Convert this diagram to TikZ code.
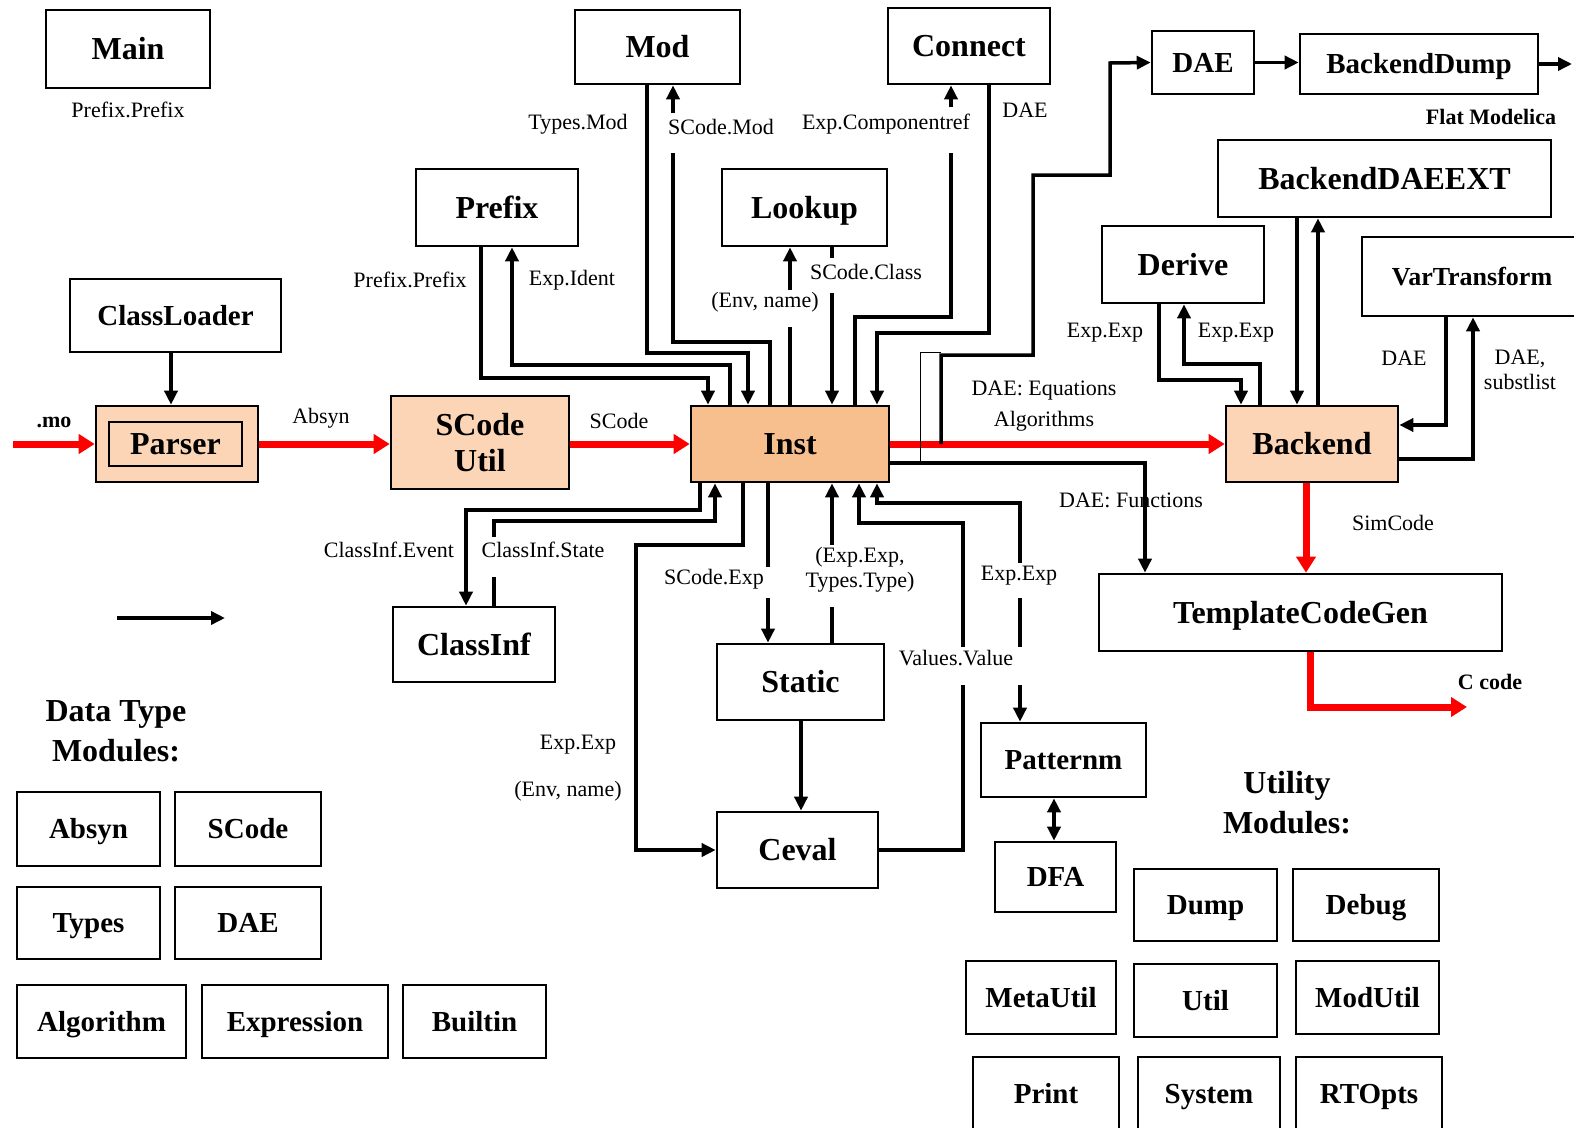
\documentclass[tikz,border=0pt]{standalone}
\usepackage{fontspec}
\setmainfont{Liberation Serif}
\usetikzlibrary{arrows.meta}
\definecolor{peach}{RGB}{251,213,181}
\definecolor{instc}{RGB}{247,191,142}
\tikzset{
  box/.style={draw, line width=2.6pt, fill=white, inner sep=0pt, text height=27pt, text depth=6pt, font=\bfseries\fontsize{32}{36}\selectfont},
  sbox/.style={box, text height=25pt, text depth=6pt, font=\bfseries\fontsize{29}{32}\selectfont},
  lab/.style={inner sep=0pt, font=\fontsize{22}{25}\selectfont},
  blab/.style={inner sep=0pt, font=\bfseries\fontsize{22}{25}\selectfont},
  head/.style={inner sep=0pt, align=center, font=\bfseries\fontsize{32}{40}\selectfont},
  conn/.style={line width=3.5pt},
  arr/.style={conn, -{Triangle[length=14pt,width=13pt]}},
  darr/.style={conn, {Triangle[length=14pt,width=13pt]}-{Triangle[length=14pt,width=13pt]}},
  redarrow/.style={line width=7pt, draw=red, -{Triangle[length=16pt,width=19pt]}},
  thinline/.style={line width=1pt},
}
\begin{document}
\begin{tikzpicture}[x=1pt,y=-1pt]
\useasboundingbox (0,0) rectangle (1574,1127);
\fill[white] (0,0) rectangle (1574,1127);
\clip (0,0) rectangle (1574,1127);

% ---------- boxes ----------
\node[box, minimum width=164, minimum height=78] (main) at (128,49) {Main};
\node[box, minimum width=165, minimum height=74] (mod) at (657.5,47) {Mod};
\node[box, minimum width=162, minimum height=76] (connect) at (969,46) {Connect};
\node[sbox, minimum width=102, minimum height=63] (daetop) at (1203,62.5) {DAE};
\node[sbox, minimum width=238, minimum height=60] (bdump) at (1419,64) {BackendDump};
\node[box, minimum width=333, minimum height=77] (bdaeext) at (1384.5,178.5) {BackendDAEEXT};
\node[box, minimum width=162, minimum height=77] (prefix) at (497,207.5) {Prefix};
\node[box, minimum width=165, minimum height=77] (lookup) at (804.5,207.5) {Lookup};
\node[box, minimum width=162, minimum height=77] (derive) at (1183,264.5) {Derive};
\node[box, minimum width=220, minimum height=79, text height=22pt, text depth=5pt, font=\bfseries\fontsize{26}{30}\selectfont] (vartrans) at (1472,276.5) {VarTransform};
\node[sbox, minimum width=211, minimum height=73] (classloader) at (175.5,315.5) {ClassLoader};
\node[box, fill=peach, minimum width=162, minimum height=76] (parserouter) at (177,444) {};
\node[box, fill=peach, minimum width=133, minimum height=44] (parser) at (175.5,444) {Parser};
\node[draw, line width=2.6pt, fill=peach, inner sep=0pt, minimum width=178, minimum height=93, align=center, font=\bfseries\fontsize{32}{36}\selectfont] (scodeutil) at (480,442.5) {SCode\\Util};
\node[box, fill=instc, minimum width=198, minimum height=76] (inst) at (790,444) {Inst};
\node[box, fill=peach, minimum width=172, minimum height=76] (backend) at (1312,444) {Backend};
\node[box, minimum width=162, minimum height=75] (classinf) at (474,644.5) {ClassInf};
\node[box, minimum width=167, minimum height=76] (static) at (800.5,682) {Static};
\node[box, minimum width=403, minimum height=77] (tcg) at (1300.5,612.5) {TemplateCodeGen};
\node[box, minimum width=161, minimum height=76] (ceval) at (797.5,850) {Ceval};
\node[sbox, minimum width=165, minimum height=74] (patternm) at (1063.5,760) {Patternm};
\node[sbox, minimum width=121, minimum height=70] (dfa) at (1055.5,877) {DFA};

% data type modules
\node[sbox, minimum width=143, minimum height=74] (absyn) at (88.5,829) {Absyn};
\node[sbox, minimum width=146, minimum height=74] (scodeb) at (248,829) {SCode};
\node[sbox, minimum width=143, minimum height=72] (types) at (88.5,923) {Types};
\node[sbox, minimum width=146, minimum height=72] (daeb) at (248,923) {DAE};
\node[sbox, minimum width=169, minimum height=73] (algorithm) at (101.5,1021.5) {Algorithm};
\node[sbox, minimum width=186, minimum height=73] (expression) at (295,1021.5) {Expression};
\node[sbox, minimum width=143, minimum height=73] (builtin) at (474.5,1021.5) {Builtin};

% utility modules
\node[sbox, minimum width=143, minimum height=72] (dump) at (1205.5,905) {Dump};
\node[sbox, minimum width=146, minimum height=72] (debug) at (1366,905) {Debug};
\node[sbox, minimum width=150, minimum height=73] (metautil) at (1041,997.5) {MetaUtil};
\node[sbox, minimum width=143, minimum height=73] (util) at (1205.5,1000.5) {Util};
\node[sbox, minimum width=143, minimum height=73] (modutil) at (1367.5,997.5) {ModUtil};
\node[sbox, minimum width=146, minimum height=73] (print) at (1046,1093.5) {Print};
\node[sbox, minimum width=142, minimum height=73] (system) at (1209,1093.5) {System};
\node[sbox, minimum width=146, minimum height=73] (rtopts) at (1369,1093.5) {RTOpts};

% headings
\node[head] (dthead) at (116,731) {Data Type\\Modules:};
\node[head] (uthead) at (1287,803) {Utility\\Modules:};

% ---------- labels ----------
\node[lab] (l1) at (128,110) {Prefix.Prefix};
\node[lab] (l2) at (578,124) {Types.Mod};
\node[lab] (l3) at (721,127) {SCode.Mod};
\node[lab] (l4) at (886,124) {Exp.Componentref};
\node[lab] (l5) at (1025,110) {DAE};
\node[blab] (l6) at (1491,117) {Flat Modelica};
\node[lab] (l7) at (410,280) {Prefix.Prefix};
\node[lab] (l8) at (572,280) {Exp.Ident};
\node[lab] (l9) at (866,272) {SCode.Class};
\node[lab] (l10) at (765,302) {(Env, name)};
\node[lab] (l11) at (1105,333) {Exp.Exp};
\node[lab] (l12) at (1236,333) {Exp.Exp};
\node[lab] (l13) at (1404,358) {DAE};
\node[lab, align=center] (l14) at (1520,370) {DAE,\\substlist};
\node[blab] (l15) at (54,422) {.mo};
\node[lab] (l16) at (321,418) {Absyn};
\node[lab] (l17) at (619,421) {SCode};
\node[lab] (l18) at (1044,391) {DAE: Equations};
\node[lab] (l19) at (1044,421) {Algorithms};
\node[lab] (l20) at (1131,500) {DAE: Functions};
\node[lab] (l21) at (1393,523) {SimCode};
\node[lab] (l22) at (389,550) {ClassInf.Event};
\node[lab] (l23) at (543,550) {ClassInf.State};
\node[lab] (l24) at (714,579) {SCode.Exp};
\node[lab, align=center] (l25) at (860,570) {(Exp.Exp,\\Types.Type)};
\node[lab] (l26) at (1019,576) {Exp.Exp};
\node[lab] (l27) at (956,658) {Values.Value};
\node[blab] (l28) at (1490,682) {C code};
\node[lab] (l29) at (578,745) {Exp.Exp};
\node[lab] (l30) at (568,791) {(Env, name)};

% ---------- free coordinates ----------
\coordinate (moin) at (13,444);
\coordinate (tapdae) at (941,444);
\coordinate (fmout) at (1572,64);
\coordinate (ccode) at (1467,707);
\coordinate (lg1) at (117,618);
\coordinate (lg2) at (225,618);

% ---------- red flow ----------
\draw[redarrow] (moin) -- (parserouter.west);
\draw[redarrow] (parserouter.east) -- (parserouter.east -| scodeutil.west);
\draw[redarrow] (inst.west -| scodeutil.east) -- (inst.west);
\draw[redarrow] (inst.east) -- (backend.west);
\draw[redarrow] (1306,0 |- backend.south) -- (1306,0 |- tcg.north);
\draw[redarrow] (1310,0 |- tcg.south) -- (1310,707) -- (ccode);

% ---------- black connectors ----------
\draw[arr] (171,0 |- classloader.south) -- (171,0 |- parserouter.north);
\draw[arr] (inst.east |- 0,463) -- (1145,463) -- (1145,0 |- tcg.north);
\draw[thinline] (920,463) -- (920,352) -- (941,352);
\draw[arr] (tapdae) -- (941,355) -- (1033,355) -- (1033,175) -- (1110,175) -- (1110,63) -- (daetop.west);
\draw[arr] (daetop.east) -- (daetop.east -| bdump.west);
\draw[arr] (bdump.east) -- (fmout);

% top inputs of Inst
\draw[arr] (647,0 |- mod.south) -- (647,353) -- (748,353) -- (748,0 |- inst.north);
\draw[conn] (770,0 |- inst.north) -- (770,342) -- (673,342) -- (673,153);
\draw[arr] (673,113) -- (673,0 |- mod.south);
\draw[arr] (481,0 |- prefix.south) -- (481,378) -- (708,378) -- (708,0 |- inst.north);
\draw[arr] (730,0 |- inst.north) -- (730,365) -- (512,365) -- (512,0 |- prefix.south);
\draw[conn] (790,0 |- inst.north) -- (790,327);
\draw[arr] (790,290) -- (790,0 |- lookup.south);
\draw[conn] (832,0 |- lookup.south) -- (832,258);
\draw[arr] (832,293) -- (832,0 |- inst.north);
\draw[conn] (855,0 |- inst.north) -- (855,317) -- (951,317) -- (951,153);
\draw[arr] (951,107) -- (951,0 |- connect.south);
\draw[arr] (989,0 |- connect.south) -- (989,333) -- (877,333) -- (877,0 |- inst.north);

% bottom of Inst
\draw[arr] (700,0 |- inst.south) -- (700,510) -- (466,510) -- (466,0 |- classinf.north);
\draw[conn] (494,0 |- classinf.north) -- (494,577);
\draw[arr] (494,537) -- (494,521) -- (715,521) -- (715,0 |- inst.south);
\draw[arr] (743,0 |- inst.south) -- (743,545) -- (636,545) -- (636,850) -- (ceval.west);
\draw[conn] (768,0 |- inst.south) -- (768,567);
\draw[arr] (768,598) -- (768,0 |- static.north);
\draw[conn] (832,0 |- static.north) -- (832,607);
\draw[arr] (832,545) -- (832,0 |- inst.south);
\draw[conn] (ceval.east) -- (963,850) -- (963,685);
\draw[arr] (963,647) -- (963,523) -- (859,523) -- (859,0 |- inst.south);
\draw[arr] (1020,563) -- (1020,503) -- (877,503) -- (877,0 |- inst.south);
\draw[conn] (1020,598) -- (1020,647);
\draw[arr] (1020,685) -- (1020,0 |- patternm.north);
\draw[arr] (801,0 |- static.south) -- (801,0 |- ceval.north);
\draw[darr] (1054,0 |- patternm.south) -- (1054,0 |- dfa.north);

% Backend neighbourhood
\draw[arr] (1159,0 |- derive.south) -- (1159,380) -- (1241,380) -- (1241,0 |- backend.north);
\draw[arr] (1260,0 |- backend.north) -- (1260,364) -- (1184,364) -- (1184,0 |- derive.south);
\draw[arr] (1297,0 |- bdaeext.south) -- (1297,0 |- backend.north);
\draw[arr] (1318,0 |- backend.north) -- (1318,0 |- bdaeext.south);
\draw[arr] (1446,0 |- vartrans.south) -- (1446,425) -- (backend.east |- 0,425);
\draw[arr] (backend.east |- 0,459) -- (1473,459) -- (1473,0 |- vartrans.south);

% legend arrow
\draw[arr] (lg1) -- (lg2);
\end{tikzpicture}
\end{document}
